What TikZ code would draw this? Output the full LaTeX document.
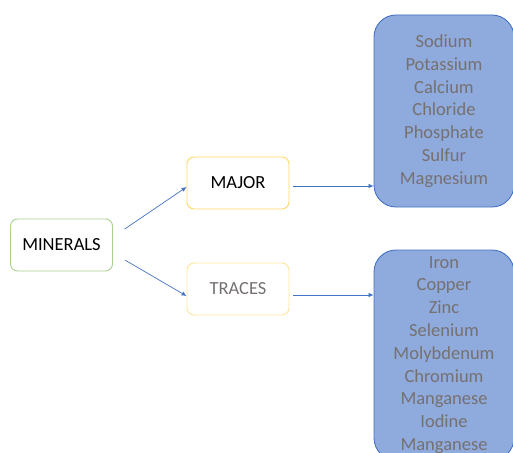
\documentclass[tikz,border=0pt]{standalone}
\usepackage{fontspec}
\setmainfont{Carlito}
\usetikzlibrary{arrows.meta}

\definecolor{boxgreen}{HTML}{A9D18E}
\definecolor{boxyellow}{HTML}{FFD966}
\definecolor{boxpale}{HTML}{FFE699}
\definecolor{listfill}{HTML}{8FAADC}
\definecolor{listdraw}{HTML}{4472C4}
\definecolor{textgray}{HTML}{767171}

\tikzset{
  catbox/.style={draw, rounded corners=7pt, line width=0.9pt, minimum width=102pt,
                 minimum height=52pt, fill=white, font=\fontsize{18.5}{22}\selectfont},
  listbox/.style={draw=listdraw, fill=listfill, rounded corners=22pt, line width=0.9pt,
                  minimum width=140pt, align=center, text=textgray,
                  font=\fontsize{18.5}{22.8}\selectfont},
  arr/.style={draw=listdraw, line width=0.7pt, -{Latex[length=5pt,width=4.5pt]}}
}

\begin{document}
\begin{tikzpicture}[x=1pt, y=-1pt]
      \useasboundingbox (0,0) rectangle (513,452);
      \clip (0,0) rectangle (513,452);

        \node[catbox, draw=boxgreen]  at (61.5,245) (minerals) {MINERALS};
        \node[catbox, draw=boxyellow] at (238,183)  (major)    {MAJOR};
        \node[catbox, draw=boxpale, text=textgray] at (238,289) (traces) {TRACES};

        \node[listbox, minimum height=192pt] at (444,111) (majorlist)
          {Sodium\\Potassium\\Calcium\\Chloride\\Phosphate\\Sulfur\\Magnesium};
        \node[listbox, minimum height=210pt] at (444,355) (tracelist)
          {Iron\\Copper\\Zinc\\Selenium\\Molybdenum\\Chromium\\Manganese\\Iodine\\Manganese};

        \draw[arr, shorten <=14pt] ([yshift=8pt]minerals.east)  -- ([yshift=-4pt]major.west);
        \draw[arr, shorten <=14pt] ([yshift=-8pt]minerals.east) -- ([yshift=-7pt]traces.west);
        \draw[arr, shorten <=4pt]  ([yshift=-3pt]major.east)  -- ([yshift=-3pt]major.east -| majorlist.west);
        \draw[arr, shorten <=4pt]  ([yshift=-6pt]traces.east) -- ([yshift=-6pt]traces.east -| tracelist.west);

    \end{tikzpicture}
\end{document}
